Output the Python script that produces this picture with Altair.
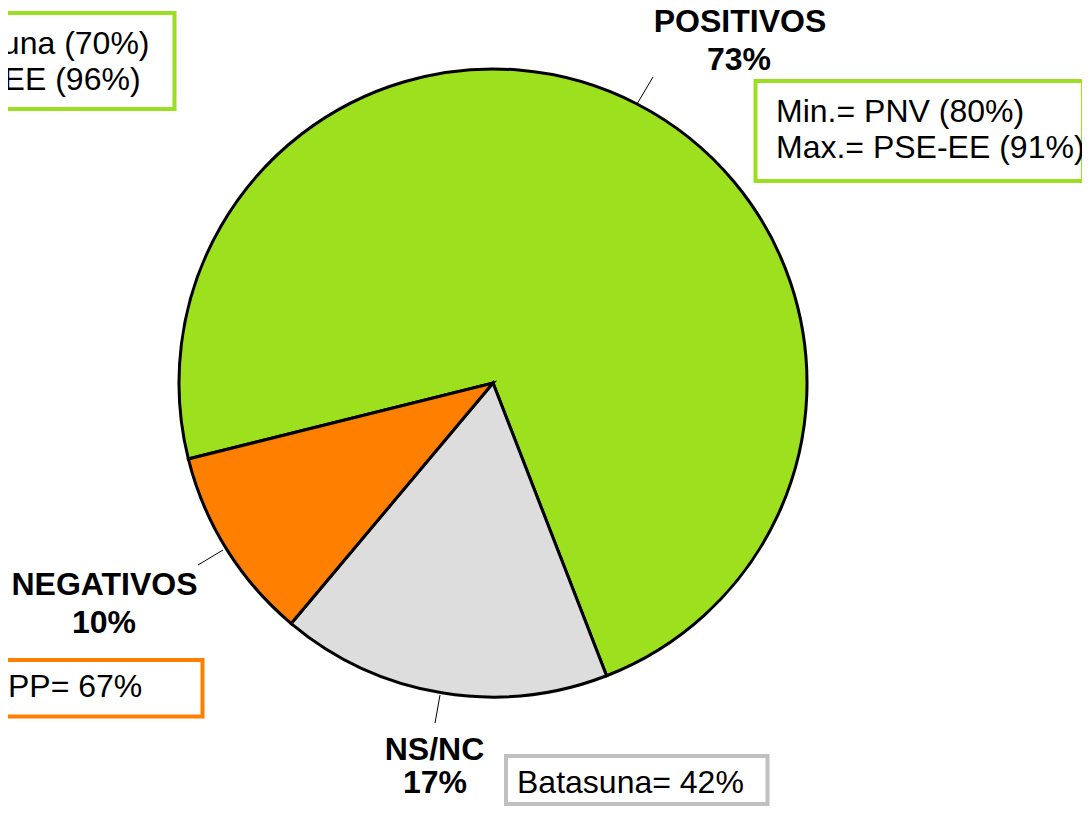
import math
import altair as alt
import pandas as pd

# ---- data ----
categories = ["POSITIVOS", "NS/NC", "NEGATIVOS"]
values = [73, 17, 10]
colors = ["#9CE01E", "#DDDDDD", "#FF8000"]
pct_labels = ["73%", "17%", "10%"]

box_lines_pos_left = ["Min.= Batasuna (70%)", "Max.= PSE-EE (96%)"]
box_lines_pos_right = ["Min.= PNV (80%)", "Max.= PSE-EE (91%)"]
box_neg = "PP= 67%"
box_nsnc = "Batasuna= 42%"

FONT = "Liberation Sans"
W, H = 1074, 799
OFF = 8  # page margin: image coords -> chart coords

df = pd.DataFrame({"cat": categories, "value": values, "order": [0, 1, 2]})

start = math.radians(256.0)
pie = alt.Chart(df).mark_arc(radius=314, stroke="black", strokeWidth=3).encode(
    theta=alt.Theta("value:Q", stack=True, scale=alt.Scale(range=[start, start + 2 * math.pi])),
    color=alt.Color("cat:N", scale=alt.Scale(domain=categories, range=colors), legend=None),
    order=alt.Order("order:Q"),
    x=alt.value(493 - OFF),
    y=alt.value(383 - OFF),
)

one = pd.DataFrame({"a": [0]})


def txt(s, x, y, bold=False, align="left", size=32):
    return alt.Chart(one).mark_text(
        text=s, font=FONT, fontSize=size, fontWeight="bold" if bold else "normal",
        align=align, baseline="alphabetic", color="black",
    ).encode(x=alt.value(x - OFF), y=alt.value(y - OFF))


def box(x1, x2, y1, y2, color):
    return alt.Chart(one).mark_rect(fill="white", stroke=color, strokeWidth=4).encode(
        x=alt.value(x1 - OFF), x2=alt.value(x2 - OFF),
        y=alt.value(y1 - OFF), y2=alt.value(y2 - OFF),
    )


def rule(x1, y1, x2, y2):
    return alt.Chart(one).mark_rule(color="black", strokeWidth=1).encode(
        x=alt.value(x1 - OFF), x2=alt.value(x2 - OFF),
        y=alt.value(y1 - OFF), y2=alt.value(y2 - OFF),
    )


layers = [
    pie,
    # leader lines
    rule(653, 77, 637, 104),
    rule(198, 565, 223, 550),
    rule(440, 695, 435, 723),
    # category labels
    txt(categories[0], 740, 32, bold=True, align="center"),
    txt(pct_labels[0], 739, 70, bold=True, align="center"),
    txt(categories[2], 104.5, 595, bold=True, align="center"),
    txt(pct_labels[2], 104, 633, bold=True, align="center"),
    txt(categories[1], 434.5, 760, bold=True, align="center"),
    txt(pct_labels[1], 435, 793, bold=True, align="center"),
    # boxes
    box(-181, 174.5, 13, 109, "#9CDF22"),
    txt(box_lines_pos_left[0], -168, 54),
    txt(box_lines_pos_left[1], -168, 90),
    box(755.5, 1083, 81, 181, "#9CDF22"),
    txt(box_lines_pos_right[0], 776, 122),
    txt(box_lines_pos_right[1], 776, 158),
    box(0, 202.5, 660, 716.5, "#FF8000"),
    txt(box_neg, 8, 697),
    box(506, 767.5, 756, 804, "#C0C0C0"),
    txt(box_nsnc, 517, 793),
]

chart = alt.layer(*layers).properties(
    width=W, height=H, autosize=alt.AutoSizeParams(type="none"), padding=0
).configure_view(stroke=None)

chart.save("out.html", embed_options={"renderer": "svg", "actions": False})
